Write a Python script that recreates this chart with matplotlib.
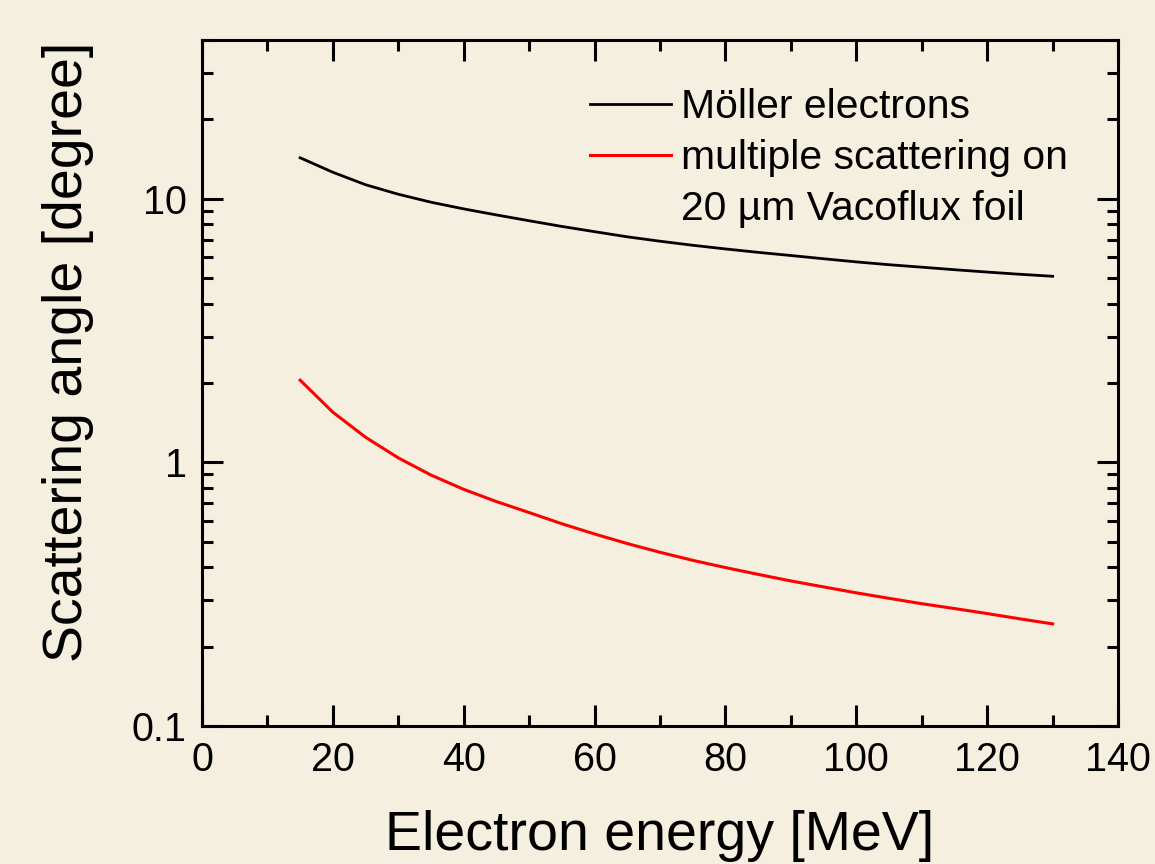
import matplotlib.pyplot as plt
from matplotlib.lines import Line2D
from matplotlib.ticker import MultipleLocator, LogLocator, FixedFormatter, FixedLocator, NullFormatter

BG = '#f4efdf'

# electron energy [MeV]
energy = [15, 20, 25, 30, 35, 40, 45, 50, 55, 60, 65, 70, 75, 80,
          85, 90, 95, 100, 105, 110, 115, 120, 125, 130]
# Moller electrons scattering angle [degree]
moller = [14.3, 12.6, 11.3, 10.4, 9.7, 9.15, 8.68, 8.25, 7.85, 7.5, 7.17, 6.9,
          6.66, 6.45, 6.26, 6.09, 5.92, 5.76, 5.62, 5.5, 5.38, 5.27, 5.17, 5.08]
# multiple scattering on 20 um Vacoflux foil [degree]
multiple = [2.05, 1.55, 1.245, 1.04, 0.895, 0.79, 0.71, 0.645, 0.585, 0.535,
            0.492, 0.456, 0.425, 0.399, 0.376, 0.355, 0.337, 0.32, 0.305,
            0.291, 0.279, 0.267, 0.255, 0.244]

plt.rcParams['font.family'] = ['Liberation Sans', 'DejaVu Sans']

fig = plt.figure(figsize=(11.55, 8.64), dpi=100)
fig.patch.set_facecolor(BG)
ax = fig.add_axes([0.1749, 0.1597, 0.7931, 0.794])
ax.set_facecolor(BG)

l1, = ax.plot(energy, moller, color='black', lw=2.0)
l2, = ax.plot(energy, multiple, color='red', lw=2.2)

ax.set_yscale('log')
ax.set_xlim(0, 140)
ax.set_ylim(0.1, 40)

ax.xaxis.set_major_locator(MultipleLocator(20))
ax.xaxis.set_minor_locator(MultipleLocator(10))
ax.yaxis.set_major_locator(FixedLocator([0.1, 1, 10]))
ax.yaxis.set_major_formatter(FixedFormatter(['0.1', '1', '10']))
ax.yaxis.set_minor_locator(LogLocator(base=10, subs=range(2, 10)))
ax.yaxis.set_minor_formatter(NullFormatter())

ax.tick_params(which='both', direction='in', top=True, right=True,
               width=2.2, labelsize=28.5)
ax.tick_params(axis='x', pad=11)
ax.tick_params(axis='y', pad=11)
ax.tick_params(which='major', length=15)
ax.tick_params(which='minor', length=8)
for sp in ax.spines.values():
    sp.set_linewidth(2.2)

ax.set_xlabel('Electron energy [MeV]', fontsize=40, labelpad=22)
ax.set_ylabel('Scattering angle [degree]', fontsize=40)
ax.yaxis.set_label_coords(-0.118, 0.545)

blank = Line2D([], [], color='none')
ax.legend([l1, l2, blank],
          ['Möller electrons', 'multiple scattering on', '20 µm Vacoflux foil'],
          loc='upper left', bbox_to_anchor=(0.4236, 0.930), frameon=False,
          fontsize=29.4, handlelength=1.98, handletextpad=0.25,
          labelspacing=0.32, borderaxespad=0, borderpad=0)

fig.savefig('out.png', dpi=100, facecolor=BG)
